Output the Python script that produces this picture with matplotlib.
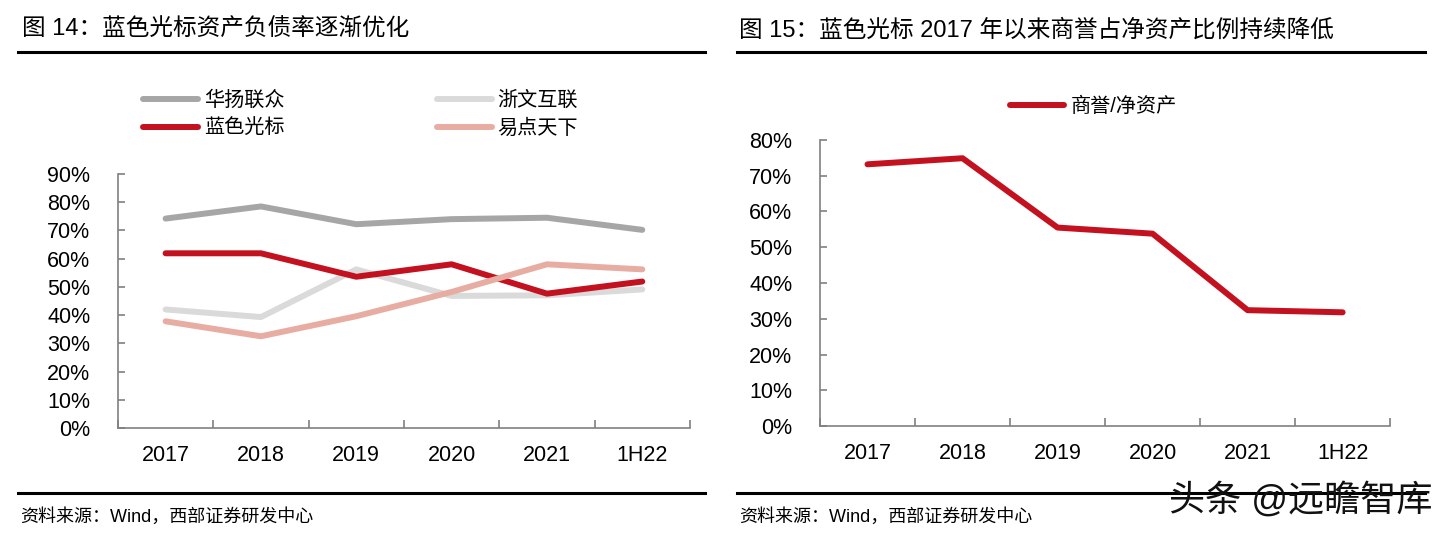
import matplotlib
matplotlib.use("Agg")
import matplotlib.pyplot as plt
from matplotlib.lines import Line2D

plt.rcParams['font.family'] = ['Liberation Sans', 'Noto Sans CJK SC', 'DejaVu Sans']

# data (percent)
years = ['2017', '2018', '2019', '2020', '2021', '1H22']
huayang = [74.2, 78.5, 72.2, 74.0, 74.5, 70.2]      # 华扬联众
zhewen = [42.0, 39.3, 56.2, 46.8, 47.0, 49.1]       # 浙文互联
bluefocus = [61.9, 61.9, 53.6, 58.0, 47.6, 51.9]    # 蓝色光标
yidian = [37.8, 32.5, 39.6, 48.2, 58.0, 56.2]       # 易点天下
goodwill = [73.2, 74.9, 55.5, 53.8, 32.4, 31.8]     # 商誉/净资产

c_gray = '#A6A6A6'
c_light = '#DADADA'
c_red = '#C3111F'
c_pink = '#E8ADA2'
spine_c = '#808080'

fig = plt.figure(figsize=(14.47, 5.37), dpi=100)


def style_axes(ax, ymax, step):
    x = range(len(years))
    ax.set_xlim(-0.5, len(years) - 0.5)
    ax.set_ylim(0, ymax)
    yt = list(range(0, ymax + 1, step))
    ax.set_yticks(yt)
    ax.set_yticklabels(['%d%%' % v for v in yt], fontsize=15.5)
    ax.set_xticks([i + 0.5 for i in range(-1, len(years))])
    ax.set_xticklabels([])
    ax.set_xticks(list(x), minor=True)
    ax.set_xticklabels(years, minor=True, fontsize=15.5)
    ax.tick_params(axis='x', which='major', direction='in', length=6, color=spine_c, width=1.2)
    ax.tick_params(axis='x', which='minor', length=0, pad=12)
    ax.tick_params(axis='y', direction='in', length=5, color=spine_c, width=1.2, pad=20)
    for s in ['top', 'right']:
        ax.spines[s].set_visible(False)
    for s in ['left', 'bottom']:
        ax.spines[s].set_color(spine_c)
        ax.spines[s].set_linewidth(1.2)


# ---- left chart
ax1 = fig.add_axes([0.0815, 0.203, 0.3953, 0.473])
x = range(len(years))
l_zw, = ax1.plot(x, zhewen, color=c_light, lw=4.3, solid_capstyle='round', label='浙文互联')
l_hy, = ax1.plot(x, huayang, color=c_gray, lw=4.3, solid_capstyle='round', label='华扬联众')
l_bf, = ax1.plot(x, bluefocus, color=c_red, lw=4.3, solid_capstyle='round', label='蓝色光标')
l_yd, = ax1.plot(x, yidian, color=c_pink, lw=4.3, solid_capstyle='round', label='易点天下')
style_axes(ax1, 90, 10)

fig.legend(handles=[l_hy, l_bf, l_zw, l_yd], labels=['华扬联众', '蓝色光标', '浙文互联', '易点天下'],
           ncol=2, loc='upper left', bbox_to_anchor=(0.099, 0.832), frameon=False,
           fontsize=14.5, handlelength=2.7, handletextpad=0.3, columnspacing=7.6,
           labelspacing=0.45, borderpad=0, borderaxespad=0)

# ---- right chart
ax2 = fig.add_axes([0.5667, 0.2067, 0.394, 0.5326])
l_gw, = ax2.plot(x, goodwill, color=c_red, lw=4.3, solid_capstyle='round', label='商誉/净资产')
style_axes(ax2, 80, 10)
fig.legend(handles=[l_gw], loc='upper left', bbox_to_anchor=(0.698, 0.819), frameon=False,
           fontsize=14.5, handlelength=2.7, handletextpad=0.3, borderpad=0, borderaxespad=0)

# ---- titles, rules, sources
fig.text(0.015, 0.944, '图 14：蓝色光标资产负债率逐渐优化', fontsize=17, va='center')
fig.text(0.511, 0.944, '图 15：蓝色光标 2017 年以来商誉占净资产比例持续降低', fontsize=17, va='center')
for x0, x1 in [(0.0124, 0.487), (0.509, 0.985)]:
    fig.add_artist(Line2D([x0, x1], [0.903, 0.903], color='black', lw=2.2))
    fig.add_artist(Line2D([x0, x1], [0.082, 0.082], color='black', lw=2.2))
fig.text(0.014, 0.037, '资料来源：Wind，西部证券研发中心', fontsize=13, va='center')
fig.text(0.511, 0.037, '资料来源：Wind，西部证券研发中心', fontsize=13, va='center')
fig.text(0.99, 0.068, '头条 @远瞻智库', fontsize=26, va='center', ha='right', color='#111111')

fig.savefig('out.png', dpi=100)
